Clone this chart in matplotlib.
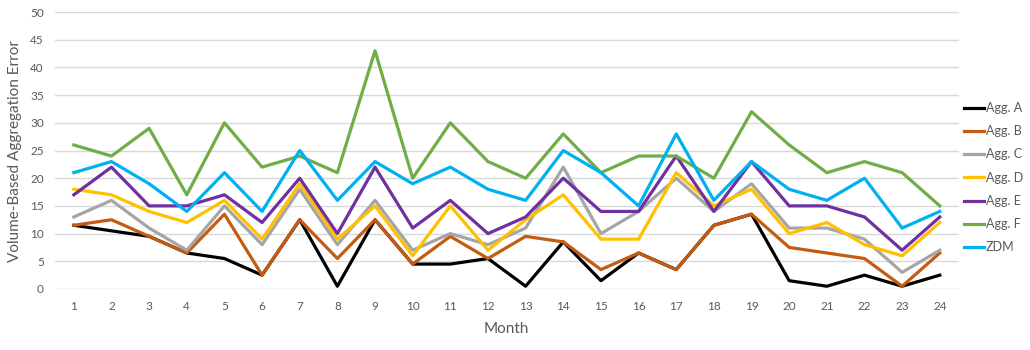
import matplotlib.pyplot as plt
import numpy as np

plt.rcParams["font.family"] = ["Lato", "DejaVu Sans"]

months = list(range(1, 25))

agg_a = [11.5, 10.5, 9.5, 6.5, 5.5, 2.5, 12.5, 0.5, 12.5, 4.5, 4.5, 5.5,
         0.5, 8.5, 1.5, 6.5, 3.5, 11.5, 13.5, 1.5, 0.5, 2.5, 0.5, 2.5]
agg_b = [11.5, 12.5, 9.5, 6.5, 13.5, 2.5, 12.5, 5.5, 12.5, 4.5, 9.5, 5.5,
         9.5, 8.5, 3.5, 6.5, 3.5, 11.5, 13.5, 7.5, 6.5, 5.5, 0.5, 6.5]
agg_c = [13, 16, 11, 7, 15, 8, 18, 8, 16, 7, 10, 8,
         11, 22, 10, 14, 20, 14, 19, 11, 11, 9, 3, 7]
agg_d = [18, 17, 14, 12, 16, 9, 19, 9, 15, 6, 15, 7,
         12.5, 17, 9, 9, 21, 15, 18, 10, 12, 8, 6, 12]
agg_e = [17, 22, 15, 15, 17, 12, 20, 10, 22, 11, 16, 10,
         13, 20, 14, 14, 24, 14, 23, 15, 15, 13, 7, 13]
agg_f = [26, 24, 29, 17, 30, 22, 24, 21, 43, 20, 30, 23,
         20, 28, 21, 24, 24, 20, 32, 26, 21, 23, 21, 15]
zdm = [21, 23, 19, 14, 21, 14, 25, 16, 23, 19, 22, 18,
       16, 25, 21, 15, 28, 16, 23, 18, 16, 20, 11, 14]

series = [("Agg. A", agg_a, "#000000"),
          ("Agg. B", agg_b, "#C55A11"),
          ("Agg. C", agg_c, "#A5A5A5"),
          ("Agg. D", agg_d, "#FFC000"),
          ("Agg. E", agg_e, "#7030A0"),
          ("Agg. F", agg_f, "#70AD47"),
          ("ZDM", zdm, "#00B0F0")]

fig = plt.figure(figsize=(10.3, 3.5), dpi=100)
ax = fig.add_axes([0.0534, 0.1743, 0.8773, 0.7914])

for name, vals, col in series:
    ax.plot(months, vals, color=col, linewidth=2.3, label=name, zorder=3)

ax.set_xlim(0.5, 24.5)
ax.set_ylim(0, 50)
ax.set_xticks(months)
ax.set_yticks(np.arange(0, 51, 5))
ax.grid(axis="y", color="#D9D9D9", linewidth=1.0, zorder=0)
for s in ax.spines.values():
    s.set_visible(False)
ax.tick_params(length=0, colors="#595959", labelsize=8.5)
ax.tick_params(axis="x", pad=9)
ax.tick_params(axis="y", pad=8)

ax.set_xlabel("Month", fontsize=11, color="#595959", labelpad=7)
ax.set_ylabel("Volume-Based Aggregation Error", fontsize=11, color="#595959", labelpad=6)

leg = fig.legend(loc="upper left", bbox_to_anchor=(964 / 1030, 1 - 102 / 350),
                 frameon=False, fontsize=9, handlelength=1.6, handletextpad=0.15,
                 labelspacing=0.9, borderaxespad=0, borderpad=0)
for t in leg.get_texts():
    t.set_color("#595959")

fig.savefig("out.png")
